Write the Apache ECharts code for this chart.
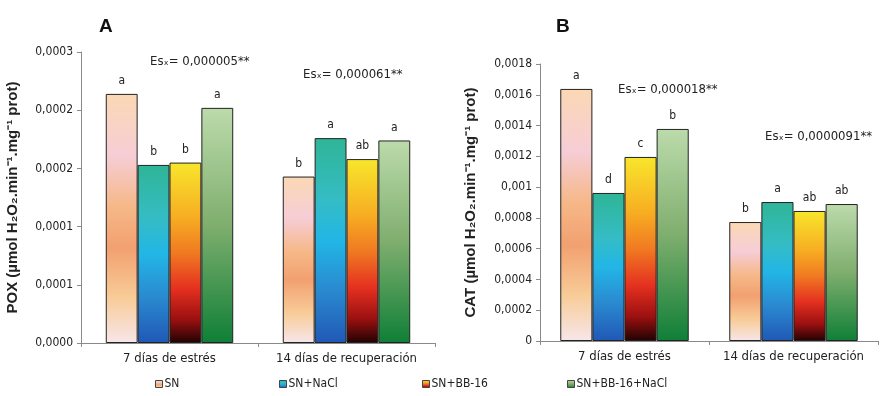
<!DOCTYPE html>
<html>
<head>
<meta charset="utf-8">
<script src="https://cdn.jsdelivr.net/npm/echarts@6/dist/echarts.min.js"></script>
<style>
  html, body { margin: 0; padding: 0; background: #fff; }
  #chart { width: 880px; height: 396px; }
</style>
</head>
<body>
<div id="chart"></div>
<script>
// data
var categories = ['7 días de estrés', '14 días de recuperación'];
var seriesNames = ['SN', 'SN+NaCl', 'SN+BB-16', 'SN+BB-16+NaCl'];

// POX, one array per treatment: [7 dias, 14 dias]
var poxSN = [0.000214, 0.000143];
var poxNaCl = [0.000153, 0.000176];
var poxBB = [0.000155, 0.000158];
var poxBBNaCl = [0.000202, 0.000174];
var poxLetters = [['a', 'b'], ['b', 'a'], ['b', 'ab'], ['a', 'a']];
var poxEs = ['0,000005', '0,000061'];

// CAT
var catSN = [0.001638, 0.000773];
var catNaCl = [0.000962, 0.000903];
var catBB = [0.001196, 0.000845];
var catBBNaCl = [0.001378, 0.00089];
var catLetters = [['a', 'b'], ['d', 'a'], ['c', 'ab'], ['b', 'ab']];
var catEs = ['0,000018', '0,0000091'];

var poxSeries = [poxSN, poxNaCl, poxBB, poxBBNaCl];
var catSeries = [catSN, catNaCl, catBB, catBBNaCl];

var FONT = "'Liberation Sans Narrow', 'Arial Narrow', 'DejaVu Sans Condensed', 'Liberation Sans', Arial, sans-serif";
var FONT_B = "'Liberation Sans', Arial, sans-serif";

function grad(stops) {
    return new echarts.graphic.LinearGradient(0, 0, 0, 1, stops.map(function (s) {
        return { offset: s[0], color: s[1] };
    }));
}
var fills = [
    grad([[0, '#fbd8b4'], [0.25, '#f6cdd6'], [0.45, '#f6b888'], [0.62, '#f2a070'], [0.82, '#f8cc98'], [1, '#f7e6ea']]),
    grad([[0, '#2fb596'], [0.3, '#35bcc4'], [0.5, '#22b6e6'], [0.75, '#2a88cf'], [1, '#2058b6']]),
    grad([[0, '#f8e62c'], [0.3, '#f7ae22'], [0.5, '#f07a22'], [0.7, '#e43020'], [0.87, '#9a1010'], [1, '#200202']]),
    grad([[0, '#bcdbab'], [0.5, '#7fae6e'], [1, '#0f7f37']])
];

function fmtPox(v) {
    return (Math.round(v * 10000 + 1e-6) / 10000).toFixed(4).replace('.', ',');
}
function fmtCat(v) {
    return String(+v.toFixed(4)).replace('.', ',');
}

var axisLine = { show: true, lineStyle: { color: '#8a8a8a', width: 1 } };
var axisTick = { show: true, length: 4, lineStyle: { color: '#8a8a8a' } };

function makeSeries(list, letters, gridIdx) {
    return list.map(function (vals, i) {
        return {
            name: seriesNames[i],
            type: 'bar',
            xAxisIndex: gridIdx,
            yAxisIndex: gridIdx,
            barGap: '0%',
            barCategoryGap: gridIdx === 0 ? '28%' : '24%',
            data: vals,
            itemStyle: { color: fills[i], borderColor: '#222', borderWidth: 1 },
            label: {
                show: true,
                position: 'top',
                distance: 7,
                color: '#222',
                fontFamily: FONT,
                fontSize: 12,
                formatter: function (p) { return letters[i][p.dataIndex]; }
            }
        };
    });
}

var legendLeft = [150, 274, 417, 562];

var dom = document.getElementById('chart');
var myChart = echarts.init(dom, null, { renderer: 'canvas' });

var option = {
    animation: false,
    backgroundColor: '#fff',
    title: [
        { text: 'A', left: 94, top: 12, textStyle: { fontFamily: FONT_B, fontSize: 19, fontWeight: 'bold', color: '#111' } },
        { text: 'B', left: 551, top: 12, textStyle: { fontFamily: FONT_B, fontSize: 19, fontWeight: 'bold', color: '#111' } }
    ],
    legend: seriesNames.map(function (n, i) {
        return {
            data: [n],
            left: legendLeft[i],
            top: 373,
            icon: 'rect',
            itemWidth: 7,
            itemHeight: 7,
            itemGap: 0,
            selectedMode: false,
            textStyle: { fontFamily: FONT, fontSize: 12, color: '#222', padding: [0, 0, 0, -3] },
            itemStyle: { borderColor: '#444', borderWidth: 1 }
        };
    }),
    grid: [
        { left: 81, top: 52, width: 354, height: 291 },
        { left: 540, top: 64, width: 338, height: 277 }
    ],
    xAxis: [0, 1].map(function (g) {
        return {
            type: 'category',
            gridIndex: g,
            data: categories,
            axisLine: axisLine,
            axisTick: axisTick,
            axisLabel: { interval: 0, fontFamily: FONT, fontSize: 13, color: '#222', margin: 9 }
        };
    }),
    yAxis: [
        {
            type: 'value', gridIndex: 0, min: 0, max: 0.00025, interval: 0.00005,
            name: 'POX (µmol H₂O₂.min⁻¹.mg⁻¹ prot)',
            nameLocation: 'middle', nameGap: 61, nameRotate: 90,
            nameTextStyle: { fontFamily: FONT_B, fontSize: 15, fontWeight: 'bold', color: '#222' },
            axisLine: axisLine, axisTick: axisTick, splitLine: { show: false },
            axisLabel: { fontFamily: FONT, fontSize: 12, color: '#222', margin: 8, formatter: fmtPox }
        },
        {
            type: 'value', gridIndex: 1, min: 0, max: 0.0018, interval: 0.0002,
            name: 'CAT (µmol H₂O₂.min⁻¹.mg⁻¹ prot)',
            nameLocation: 'middle', nameGap: 62, nameRotate: 90,
            nameTextStyle: { fontFamily: FONT_B, fontSize: 15, fontWeight: 'bold', color: '#222' },
            axisLine: axisLine, axisTick: axisTick, splitLine: { show: false },
            axisLabel: { fontFamily: FONT, fontSize: 12, color: '#222', margin: 8, formatter: fmtCat }
        }
    ],
    graphic: [
        { type: 'text', x: 150, y: 62, style: { text: 'Esₓ= ' + poxEs[0] + '**', font: '13px ' + FONT, fill: '#222', textVerticalAlign: 'middle' } },
        { type: 'text', x: 303, y: 75, style: { text: 'Esₓ= ' + poxEs[1] + '**', font: '13px ' + FONT, fill: '#222', textVerticalAlign: 'middle' } },
        { type: 'text', x: 618, y: 90, style: { text: 'Esₓ= ' + catEs[0] + '**', font: '13px ' + FONT, fill: '#222', textVerticalAlign: 'middle' } },
        { type: 'text', x: 765, y: 137, style: { text: 'Esₓ= ' + catEs[1] + '**', font: '13px ' + FONT, fill: '#222', textVerticalAlign: 'middle' } }
    ],
    series: makeSeries(poxSeries, poxLetters, 0).concat(makeSeries(catSeries, catLetters, 1))
};

if (option && typeof option === 'object') {
    myChart.setOption(option);
}
window.addEventListener('resize', function () {
    myChart.resize();
});
</script>
</body>
</html>
